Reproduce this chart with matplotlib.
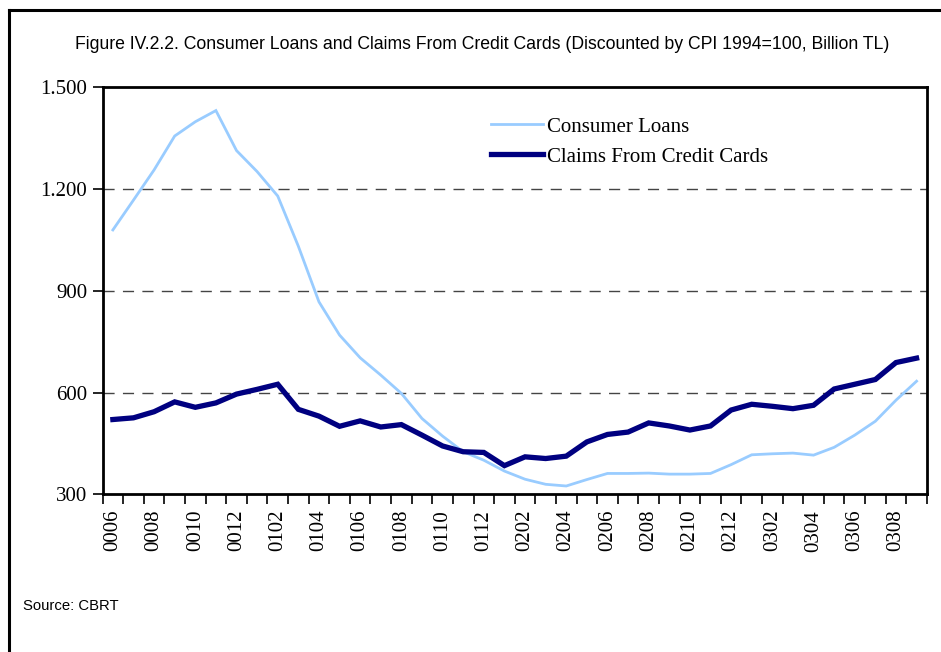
import matplotlib
matplotlib.use('Agg')
import matplotlib.pyplot as plt
from matplotlib.lines import Line2D
from matplotlib.ticker import FuncFormatter, FixedLocator
import numpy as np

# months June 2000 .. September 2003, labelled YYMM
months = (['00%02d' % m for m in range(6, 13)] +
          ['01%02d' % m for m in range(1, 13)] +
          ['02%02d' % m for m in range(1, 13)] +
          ['03%02d' % m for m in range(1, 10)])

consumer_loans = [1080, 1168, 1257, 1357, 1399, 1432, 1314, 1252, 1180, 1032,
                  868, 770, 703, 652, 598, 524, 472, 426, 401, 369,
                  345, 330, 325, 344, 362, 362, 363, 360, 360, 362,
                  388, 417, 420, 422, 416, 439, 475, 516, 578, 634]

credit_cards = [521, 526, 544, 573, 557, 570, 596, 610, 625, 551,
                531, 501, 517, 499, 506, 475, 443, 426, 424, 385,
                411, 406, 413, 455, 477, 484, 511, 502, 490, 502,
                549, 566, 560, 553, 563, 611, 625, 639, 689, 702]

y_ticks = [300, 600, 900, 1200, 1500]

serif = ['Liberation Serif', 'DejaVu Serif']
sans = ['Liberation Sans', 'DejaVu Sans']

fig = plt.figure(figsize=(9.41, 6.52), dpi=100)
ax = fig.add_axes([0.109, 0.2416, 0.876, 0.6242])

x = np.arange(len(months))
ax.plot(x, consumer_loans, color='#99ccff', lw=2.0, label='Consumer Loans',
        solid_joinstyle='miter', zorder=3)
ax.plot(x, credit_cards, color='#000080', lw=3.8, label='Claims From Credit Cards',
        solid_joinstyle='miter', zorder=4)

ax.set_xlim(-0.5, len(months) - 0.5)
ax.set_ylim(300, 1500)

# y axis
ax.set_yticks(y_ticks)
ax.yaxis.set_major_formatter(FuncFormatter(lambda v, p: '{:,}'.format(int(v)).replace(',', '.')))
for v in y_ticks[1:-1]:
    ax.axhline(v, color='#444444', lw=1.0, ls=(0, (8, 6)), zorder=1)

# x axis: tick marks between months, labels every second month
ax.xaxis.set_major_locator(FixedLocator(np.arange(-0.5, len(months), 1.0)))
ax.xaxis.set_major_formatter(FuncFormatter(lambda v, p: ''))
ax.xaxis.set_minor_locator(FixedLocator(x[::2]))
ax.set_xticklabels([months[i] for i in x[::2]], minor=True, rotation=90,
                   family=serif, fontsize=15)
ax.tick_params(axis='x', which='major', direction='out', length=7, width=1.2)
ax.tick_params(axis='x', which='minor', length=0, pad=11)
ax.tick_params(axis='y', direction='out', length=7, width=1.2, pad=4)
for lab in ax.get_yticklabels():
    lab.set_family(serif)
    lab.set_fontsize(15)

for s in ax.spines.values():
    s.set_linewidth(2.0)
    s.set_color('black')

leg = ax.legend(loc='upper left', bbox_to_anchor=(0.4535, 0.963), frameon=False,
                prop={'family': serif, 'size': 15}, handlelength=2.5,
                handletextpad=0.2, labelspacing=0.5, borderpad=0.2)

fig.text(0.512, 0.931, 'Figure IV.2.2. Consumer Loans and Claims From Credit Cards '
         '(Discounted by CPI 1994=100, Billion TL)',
         ha='center', va='center', family=sans, fontsize=12.7)
fig.text(0.024, 0.071, 'Source: CBRT', ha='left', va='center', family=sans, fontsize=10.7)

# outer frame: left and top edges only
fig.add_artist(Line2D([0.0096, 0.0096], [0.0, 0.985], color='black', lw=2.2,
                      transform=fig.transFigure))
fig.add_artist(Line2D([0.0096, 1.0], [0.985, 0.985], color='black', lw=2.2,
                      transform=fig.transFigure))

fig.savefig('out.png', dpi=100)
